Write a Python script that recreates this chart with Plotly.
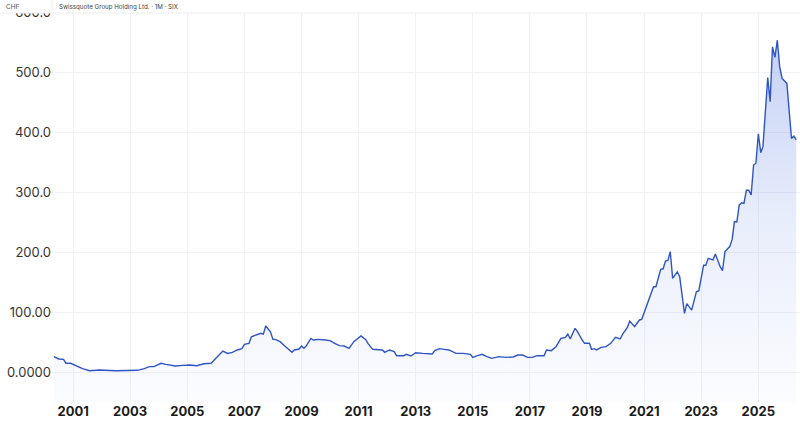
import plotly.graph_objects as go

# ---- data ----
dates = [
    "2000-05", "2000-07", "2000-09", "2000-10", "2000-12", "2001-03", "2001-05", "2001-08",
    "2001-12", "2002-07", "2003-04", "2003-07", "2003-09", "2003-11", "2004-02", "2004-04",
    "2004-08", "2004-11", "2005-02", "2005-05", "2005-08", "2005-11", "2006-01", "2006-04",
    "2006-06", "2006-08", "2006-10", "2006-12", "2007-01", "2007-03", "2007-04", "2007-06",
    "2007-08", "2007-09", "2007-10", "2007-12", "2008-01", "2008-02", "2008-04", "2008-06",
    "2008-09", "2008-10", "2008-12", "2009-01", "2009-02", "2009-03", "2009-05", "2009-06",
    "2009-08", "2009-11", "2010-01", "2010-03", "2010-05", "2010-07", "2010-09", "2010-11",
    "2011-02", "2011-04", "2011-05", "2011-07", "2011-09", "2011-11", "2011-12", "2012-02",
    "2012-04", "2012-05", "2012-08", "2012-09", "2012-11", "2013-01", "2013-04", "2013-06",
    "2013-08", "2013-09", "2013-11", "2014-01", "2014-03", "2014-06", "2014-09", "2014-12",
    "2015-01", "2015-03", "2015-05", "2015-07", "2015-09", "2015-12", "2016-03", "2016-06",
    "2016-08", "2016-10", "2016-12", "2017-02", "2017-04", "2017-07", "2017-08", "2017-10",
    "2017-12", "2018-02", "2018-04", "2018-05", "2018-06", "2018-08", "2018-09", "2018-11",
    "2018-12", "2019-02", "2019-03", "2019-04", "2019-05", "2019-07", "2019-09", "2019-11",
    "2020-01", "2020-03", "2020-04", "2020-06", "2020-07", "2020-09", "2020-11", "2020-12",
    "2021-02", "2021-05", "2021-06", "2021-08", "2021-09", "2021-10", "2021-11", "2021-12",
    "2022-01", "2022-03", "2022-04", "2022-06", "2022-07", "2022-09", "2022-11", "2022-12",
    "2023-02", "2023-03", "2023-04", "2023-06", "2023-07", "2023-09", "2023-10", "2023-11",
    "2024-01", "2024-02", "2024-03", "2024-04", "2024-05", "2024-06", "2024-07", "2024-08",
    "2024-09", "2024-10", "2024-11", "2024-12", "2025-01", "2025-02", "2025-03", "2025-05",
    "2025-06", "2025-07", "2025-08", "2025-09", "2025-10", "2025-11", "2026-01", "2026-02",
    "2026-03", "2026-04", "2026-05",
]
prices = [
    25.5, 21.7, 21.0, 14.5, 14.5, 9.0, 5.5, 2.2,
    3.3, 2.2, 2.8, 5.5, 9.0, 9.0, 14.5, 12.8,
    10.0, 11.0, 11.7, 10.5, 13.8, 14.5, 22.8, 35.0,
    31.0, 32.8, 36.7, 39.0, 46.0, 47.8, 58.8, 61.7,
    64.4, 63.0, 76.7, 67.0, 54.4, 54.4, 50.6, 43.3,
    32.8, 36.7, 38.3, 43.3, 39.4, 43.3, 56.0, 53.3,
    54.4, 53.3, 52.2, 47.8, 43.9, 43.3, 39.4, 50.6,
    60.0, 54.4, 47.8, 37.8, 37.8, 36.7, 32.8, 36.7,
    33.9, 27.2, 27.2, 29.4, 26.7, 32.2, 31.1, 31.1,
    30.0, 35.6, 38.9, 37.8, 36.7, 31.0, 31.0, 29.4,
    24.4, 27.2, 29.4, 25.6, 22.8, 25.6, 24.4, 25.0,
    28.3, 28.3, 24.4, 24.4, 27.2, 27.2, 36.7, 35.6,
    42.2, 56.0, 57.8, 63.3, 55.0, 72.8, 67.2, 53.3,
    47.8, 47.8, 37.8, 38.9, 36.7, 41.1, 42.2, 47.8,
    57.8, 55.0, 63.0, 74.4, 85.0, 75.6, 86.7, 87.8,
    108.9, 142.0, 142.0, 171.0, 172.0, 185.0, 186.0, 200.6,
    156.0, 167.0, 159.0, 97.8, 114.0, 103.0, 134.0, 135.0,
    178.0, 178.0, 189.5, 187.0, 196.7, 175.6, 169.0, 200.6,
    209.0, 221.0, 250.6, 250.0, 278.0, 282.0, 281.0, 303.0,
    303.0, 295.0, 345.0, 348.0, 397.0, 365.6, 375.6, 490.6,
    450.6, 542.0, 524.4, 553.0, 508.9, 489.4, 481.0, 431.0,
    389.4, 393.0, 386.7,
]

y_tickvals = [0, 100, 200, 300, 400, 500, 600]
y_ticktext = ["0.0000", "100.00", "200.0", "300.0", "400.0", "500.0", "600.0"]
x_tickvals = ["2001-01-01", "2003-01-01", "2005-01-01", "2007-01-01", "2009-01-01",
              "2011-01-01", "2013-01-01", "2015-01-01", "2017-01-01", "2019-01-01",
              "2021-01-01", "2023-01-01", "2025-01-01"]
x_ticktext = ["2001", "2003", "2005", "2007", "2009", "2011", "2013",
              "2015", "2017", "2019", "2021", "2023", "2025"]

Y_MIN, Y_MAX = -50, 620
X_RANGE = ["2000-04-06", "2026-06-18"]
LINE = "#2f55c4"

fig = go.Figure()
# invisible baseline at the bottom of the plot so the fill reaches the axis floor
fig.add_trace(go.Scatter(
    x=dates, y=[Y_MIN] * len(dates), mode="lines",
    line=dict(width=0, color="rgba(0,0,0,0)"), hoverinfo="skip", showlegend=False,
))
fig.add_trace(go.Scatter(
    x=dates, y=prices, mode="lines",
    line=dict(color=LINE, width=1.4),
    fill="tonexty",
    fillgradient=dict(
        type="vertical",
        start=Y_MIN, stop=560,
        colorscale=[[0, "rgba(70,110,225,0.02)"], [0.5, "rgba(70,110,225,0.12)"],
                    [1, "rgba(70,110,225,0.32)"]],
    ),
    showlegend=False,
))

fig.update_layout(
    width=800, height=427,
    margin=dict(l=52, r=0, t=0, b=25),
    paper_bgcolor="white", plot_bgcolor="white",
    font=dict(family="Inter, Liberation Sans, sans-serif", color="#333"),
    xaxis=dict(
        type="date", range=X_RANGE,
        tickvals=x_tickvals, ticktext=x_ticktext,
        tickfont=dict(size=13, color="#1a1a1a", family="Inter, Liberation Sans, sans-serif", weight="bold"),
        showgrid=True, gridcolor="#f1f2f4", gridwidth=1,
        zeroline=False, showline=False, ticks="",
    ),
    yaxis=dict(
        range=[Y_MIN, Y_MAX],
        tickvals=y_tickvals, ticktext=y_ticktext,
        tickfont=dict(size=13, color="#333"),
        showgrid=True, gridcolor="#f1f2f4", gridwidth=1,
        zeroline=False, showline=False, ticks="",
    ),
    shapes=[
        dict(type="rect", xref="paper", yref="paper", x0=-0.08, x1=1.01,
             y0=1 - 13 / 402, y1=1.01, fillcolor="white", line=dict(width=0), layer="above"),
        dict(type="line", xref="paper", yref="paper", x0=-0.0695, x1=1,
             y0=1 - 13 / 402, y1=1 - 13 / 402, line=dict(color="#eeeeee", width=1), layer="above"),
        dict(type="line", xref="paper", yref="paper", x0=0, x1=0,
             y0=1 - 13 / 402, y1=1.0, line=dict(color="#eeeeee", width=1), layer="above"),
    ],
    annotations=[
        dict(text="CHF", xref="paper", yref="paper", x=-0.064, y=1, xanchor="left",
             yanchor="top", yshift=-1, showarrow=False, font=dict(size=6.5, color="#555")),
        dict(text="Swissquote Group Holding Ltd. · 1M · SIX", xref="paper", yref="paper",
             x=0.007, y=1, xanchor="left", yanchor="top", yshift=-1, showarrow=False,
             font=dict(size=6.2, color="#444")),
    ],
)

fig.write_html("out.html")
